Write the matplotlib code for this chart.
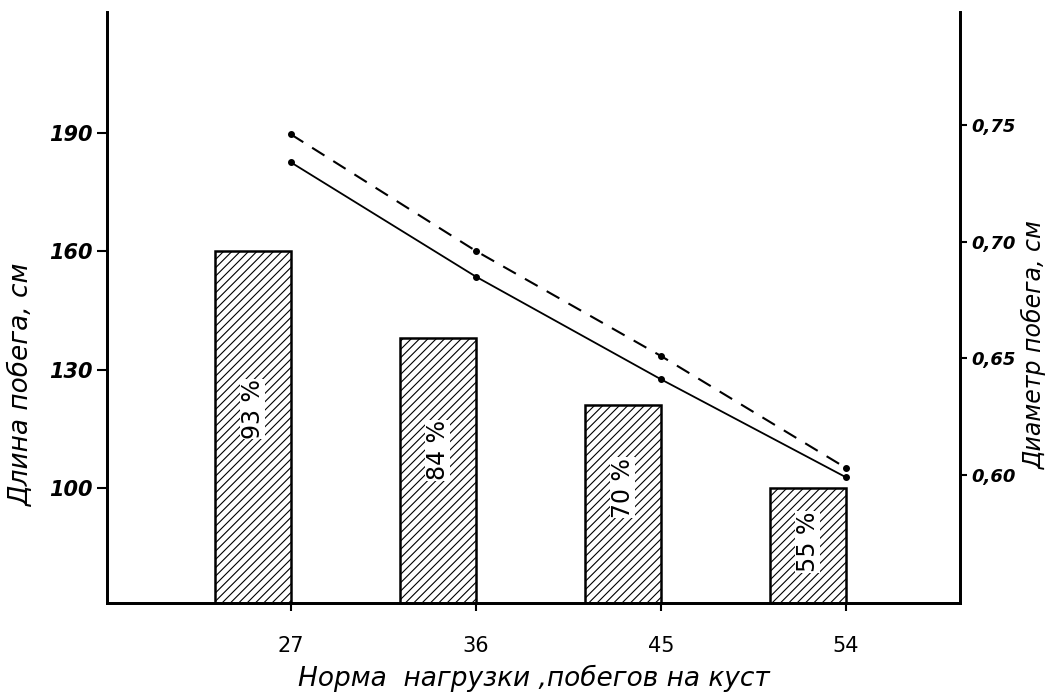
import numpy as np
from matplotlib import pyplot as plt

# Норма нагрузки (побегов на куст)
norma = [27, 36, 45, 54]
# длина побега, см (столбики)
dlina = [160, 138, 121, 100]
procent = ['93 %', '84 %', '70 %', '55 %']
# положение подписей внутри столбиков (по левой оси)
procent_y = [120, 109.6, 100, 86.3]
# диаметр побега, см (две линии)
diam_sploshnaya = [0.734, 0.685, 0.641, 0.599]
diam_punktir = [0.746, 0.696, 0.651, 0.603]

left_ticks = [100, 130, 160, 190]
right_ticks = [0.60, 0.65, 0.70, 0.75]
right_labels = ['0,60', '0,65', '0,70', '0,75']

plt.rcParams['font.family'] = ['DejaVu Sans']
plt.rcParams['hatch.linewidth'] = 0.8

fig = plt.figure(figsize=(10.5, 7), dpi=100)
ax = fig.add_axes([0.1019, 0.1386, 0.8124, 0.844])
ax2 = ax.twinx()

# столбики
ax.bar(norma, dlina, width=-3.7, align='edge', color='white',
       edgecolor='black', linewidth=1.8, hatch='////', zorder=2)
for x, y, t in zip(norma, procent_y, procent):
    ax.text(x - 1.85, y, t, rotation=90, ha='center', va='center',
            fontsize=17, color='black', zorder=3,
            bbox=dict(facecolor='white', edgecolor='none', pad=0.3))

# линии диаметра
ax2.plot(norma, diam_sploshnaya, color='black', lw=1.3, marker='o', ms=4)
ax2.plot(norma, diam_punktir, color='black', lw=1.5, marker='o', ms=4,
         linestyle=(0, (7, 5)))

ax.set_xlim(18.05, 59.55)
ax.set_ylim(70.8, 220.7)
ax2.set_ylim(0.5451, 0.7984)

ax.set_xticks(norma)
ax.set_xticklabels([str(n) for n in norma], fontsize=15)
ax.set_yticks(left_ticks)
ax.set_yticklabels([str(v) for v in left_ticks], fontsize=15,
                   fontstyle='italic', fontweight='bold')
ax2.set_yticks(right_ticks)
ax2.set_yticklabels(right_labels, fontsize=13, fontstyle='italic',
                    fontweight='bold')

ax.tick_params(axis='x', length=6, width=1.5, pad=18)
ax.tick_params(axis='y', length=7, width=1.5, pad=3)
ax2.tick_params(axis='y', length=5, width=1.5, pad=3)

for a in (ax, ax2):
    a.spines['top'].set_visible(False)
    for s in ('left', 'right', 'bottom'):
        a.spines[s].set_linewidth(2)

ax.set_xlabel('Норма  нагрузки ,побегов на куст', fontsize=19,
              fontstyle='italic', labelpad=6)
ax.set_ylabel('Длина побега, см', fontsize=19, fontstyle='italic')
ax2.set_ylabel('Диаметр побега, см', fontsize=17, fontstyle='italic',
               va='center')
ax.yaxis.set_label_coords(-0.084, 0.37)
ax2.yaxis.set_label_coords(1.0865, 0.437)

fig.savefig('out.png', dpi=100)
